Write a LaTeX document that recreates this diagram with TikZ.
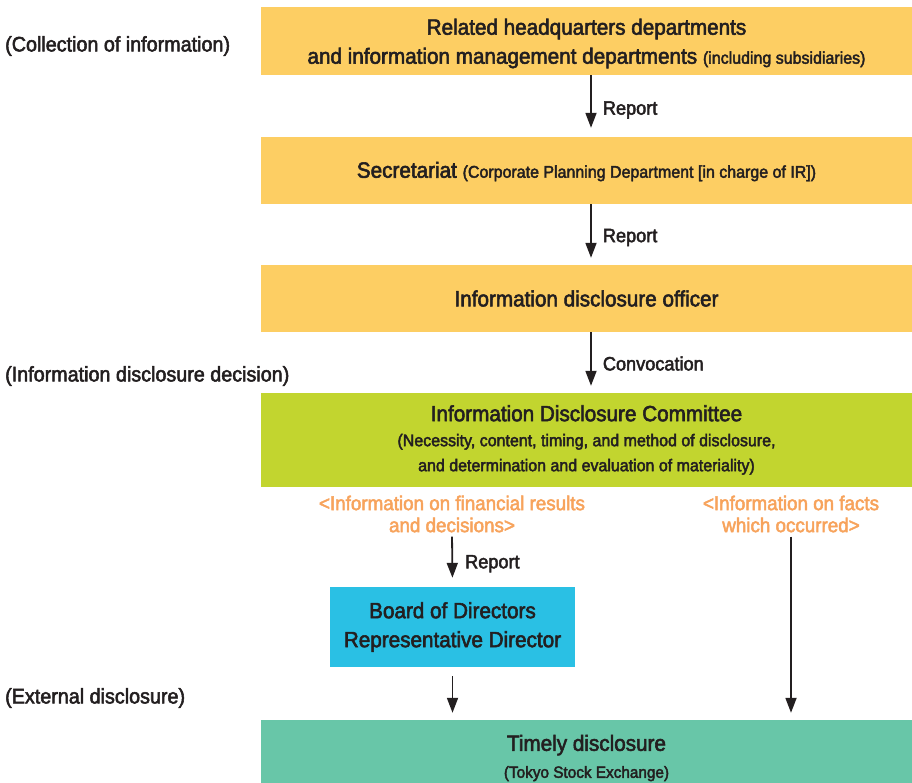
\documentclass[tikz,border=0pt]{standalone}
\usepackage{fontspec}
\setmainfont[FakeStretch=0.94,FakeBold=2.5]{Liberation Sans}
\usetikzlibrary{arrows.meta}
\definecolor{txt}{HTML}{231F20}
\definecolor{yel}{HTML}{FDCE63}
\definecolor{lime}{HTML}{C2D52F}
\definecolor{cyanbox}{HTML}{2AC0E4}
\definecolor{tealbox}{HTML}{68C6A8}
\definecolor{orng}{HTML}{F7A35C}
\newcommand{\sm}{\fontsize{17}{20}\selectfont}
\newcommand{\bg}{\fontsize{22}{27}\selectfont}
\tikzset{
  box/.style={inner sep=0pt, align=center, text=txt, minimum width=651pt},
  big/.style={font=\fontsize{22}{29}\selectfont},
  arr/.style={draw=txt, line width=1.8pt, -{Triangle[length=15pt,width=11pt]}},
  lbl/.style={text=txt, font=\fontsize{19.3}{22}\selectfont, inner sep=0pt},
  side/.style={text=txt, font=\fontsize{21}{22}\selectfont, inner sep=0pt, anchor=west},
  orl/.style={text=orng, align=center, inner sep=0pt, font=\fontsize{20}{22}\selectfont}
}
\begin{document}
\begin{tikzpicture}[x=1pt,y=-1pt]
\useasboundingbox (0,0) rectangle (912,783);
% left labels
\node[side] (l1) at (5,46) {(Collection of information)};
\node[side] (l2) at (5,376) {(Information disclosure decision)};
\node[side] (l3) at (5,698) {(External disclosure)};
% boxes
\node[box, big, fill=yel, minimum height=68pt] (b1) at (586.5,41)
  {\rule{0pt}{21pt}Related headquarters departments\\and information management departments {\sm(including subsidiaries)}};
\node[box, big, fill=yel, minimum height=67pt] (b2) at (586.5,170.5)
  {\rule{0pt}{18pt}Secretariat {\sm(Corporate Planning Department [in charge of IR])}};
\node[box, big, fill=yel, minimum height=67pt] (b3) at (586.5,298.5)
  {Information disclosure officer};
\node[box, fill=lime, minimum height=94pt, font=\fontsize{17}{25}\selectfont] (b4) at (586.5,440)
  {\bg Information Disclosure Committee\\
   \sm (Necessity, content, timing, and method of disclosure,\\
   \sm and determination and evaluation of materiality)};
\node[orl] (o1) at (452,514) {<Information on financial results\\and decisions>};
\node[orl] (o2) at (791,514) {<Information on facts\\which occurred>};
\node[box, big, fill=cyanbox, minimum width=245pt, minimum height=80pt] (b5) at (452.5,627)
  {Board of Directors\\Representative Director};
\node[box, fill=tealbox, minimum height=63pt, font=\fontsize{16.3}{27}\selectfont] (b6) at (586.5,751.5)
  {\bg\rule{0pt}{29pt}Timely disclosure\\\fontsize{16.3}{27}\selectfont (Tokyo Stock Exchange)};
% arrows
\draw[arr, shorten >=9pt] ([xshift=4.5pt]b1.south) -- node[lbl, right=11pt, yshift=-4pt] {Report} ([xshift=4.5pt]b2.north);
\draw[arr, shorten >=7pt] ([xshift=4.5pt]b2.south) -- node[lbl, right=11pt, yshift=-3pt] {Report} ([xshift=4.5pt]b3.north);
\draw[arr, shorten >=7pt] ([xshift=4.5pt]b3.south) -- node[lbl, right=11pt, yshift=-1pt] {Convocation} ([xshift=4.5pt]b4.north);
\draw[arr, shorten <=4pt, shorten >=9pt] (o1.south) -- node[lbl, right=12pt, yshift=-4pt] {Report} (b5.north);
\draw[arr, shorten <=9pt, shorten >=7pt] (b5.south) -- (b5.south |- b6.north);
\draw[arr, shorten <=4pt, shorten >=7pt] (o2.south) -- (o2.south |- b6.north);
\end{tikzpicture}
\end{document}
